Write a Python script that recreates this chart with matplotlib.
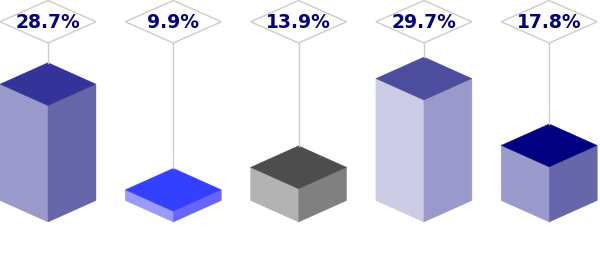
import numpy as np
import matplotlib.pyplot as plt
from matplotlib.patches import Polygon
from matplotlib.transforms import blended_transform_factory

# data
labels = ['28.7%', '9.9%', '13.9%', '29.7%', '17.8%']
values = [28.7, 9.9, 13.9, 29.7, 17.8]
top_colors = ['#333399', '#3340ff', '#4d4d4d', '#4d4d9e', '#000080']
left_colors = ['#9999cc', '#9999ff', '#b3b3b3', '#ccccE6', '#9999cc']
right_colors = ['#6666aa', '#6666ff', '#808080', '#9999cc', '#6666aa']

W, H = 600, 259
fig = plt.figure(figsize=(W / 100, H / 100), dpi=100)
ax = fig.add_axes([0, 0, 1, 1])
ax.set_axis_off()

# scales (px per unit), baseline value
step_px = 125.3
val_px = 5.62
base = 8.0
x0_px = 48
base_px = 222
ax.set_xlim(-x0_px / step_px, (W - x0_px) / step_px)
ax.set_ylim(base - (H - base_px) / val_px, base + base_px / val_px)

hw = 48 / step_px          # half width of bar in category units
dy = 21.5 / val_px         # isometric depth in value units

for i, (v, tc, lc, rc) in enumerate(zip(values, top_colors, left_colors, right_colors)):
    # left face
    ax.add_patch(Polygon([(i - hw, base + dy), (i, base), (i, v), (i - hw, v + dy)],
                         closed=True, fc=lc, ec=lc, lw=0.3))
    # right face
    ax.add_patch(Polygon([(i, base), (i + hw, base + dy), (i + hw, v + dy), (i, v)],
                         closed=True, fc=rc, ec=rc, lw=0.3))
    # top face
    ax.add_patch(Polygon([(i, v), (i + hw, v + dy), (i, v + 2 * dy), (i - hw, v + dy)],
                         closed=True, fc=tc, ec=tc, lw=0.3))

# label diamonds at the top
trans = blended_transform_factory(ax.transData, ax.transAxes)
d_top = 1 - 0.5 / H
d_bot = 1 - 43 / H
d_mid = (d_top + d_bot) / 2
y_bot_data = ax.transData.inverted().transform(ax.transAxes.transform((0, d_bot)))[1]
for i, (v, lab) in enumerate(zip(values, labels)):
    # connector line from diamond to top of bar
    ax.plot([i, i], [v + 2 * dy, y_bot_data], color='#cccccc', lw=1.0, zorder=1)
    ax.add_patch(Polygon([(i - hw, d_mid), (i, d_top), (i + hw, d_mid), (i, d_bot)],
                         closed=True, fc='white', ec='#cccccc', lw=1.0,
                         transform=trans, zorder=3))
    ax.text(i, d_mid - 0.004, lab, transform=trans, ha='center', va='center',
            fontsize=13.5, fontweight='bold', color='#000080',
            family='DejaVu Sans', zorder=4)

fig.savefig('out.png', dpi=100)
